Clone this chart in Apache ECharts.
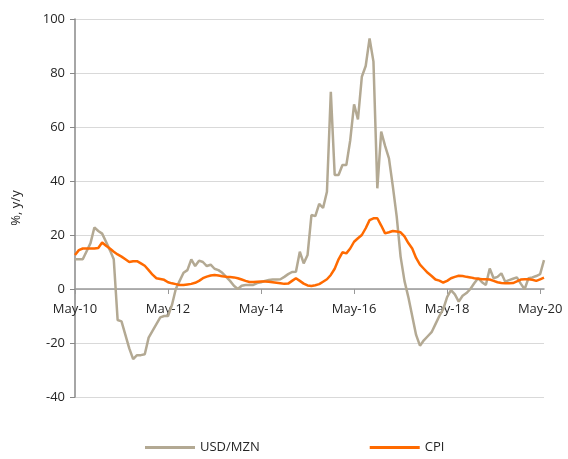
<!DOCTYPE html>
<html>
<head>
<meta charset="utf-8">
<script src="https://cdn.jsdelivr.net/npm/echarts@6/dist/echarts.min.js"></script>
<style>
  html, body { margin: 0; padding: 0; background: #fff; }
  #chart { width: 568px; height: 459px; }
</style>
</head>
<body>
<div id="chart"></div>
<script>
// monthly observations, May-10 .. Jun-20
var monthNames = ['Jan', 'Feb', 'Mar', 'Apr', 'May', 'Jun', 'Jul', 'Aug', 'Sep', 'Oct', 'Nov', 'Dec'];
var months = [];
for (var k = 0; k < 122; k++) {
    var m = (4 + k) % 12;
    var yr = 10 + Math.floor((4 + k) / 12);
    months.push(monthNames[m] + '-' + yr);
}

var usdMzn = [
    11, 11, 11, 14, 17, 22.8, 21.5, 20.5, 17.5, 14.4,
    11, -11.5, -12, -17, -22, -26, -24.5, -24.5, -24.2, -18,
    -15.5, -13, -10.5, -10, -10, -6, 0, 3, 6, 7,
    11, 8.5, 10.5, 10, 8.5, 9, 7.5, 7, 6, 4.5,
    3, 1.2, 0, 1.2, 1.5, 1.5, 1.5, 2.2, 2.5, 3,
    3.3, 3.5, 3.5, 3.6, 4.5, 5.5, 6.3, 6.4, 13.8, 9.5,
    12.6, 27.4, 27, 31.5, 30, 36, 73, 42.2, 42.2, 45.9,
    45.9, 55, 68.4, 62.8, 78.6, 82.6, 92.8, 84.2, 37.3, 58.3,
    53, 48.4, 38, 26.8, 12, 3, -3, -10, -17, -21,
    -19, -17.5, -16, -13, -10, -7.5, -3, -0.4, -2, -4.7,
    -2.5, -1.5, 0, 2.1, 4, 2.5, 1.5, 7.6, 4, 4.5,
    5.8, 2.7, 3.3, 3.8, 4.3, 2, -0.1, 4, 4.3, 4.8,
    5.5, 10.7
];

var cpi = [
    12.6, 14.4, 15, 15, 15, 15, 15.2, 17.2, 16, 15,
    13.8, 12.8, 12, 11, 10, 10.3, 10.3, 9.5, 8.6, 7,
    5.3, 4, 3.7, 3.4, 2.5, 2.1, 1.8, 1.5, 1.5, 1.7,
    1.9, 2.3, 3, 4, 4.6, 5, 5.2, 5, 4.7, 4.5,
    4.4, 4.3, 4, 3.5, 3, 2.6, 2.6, 2.7, 2.8, 2.8,
    2.7, 2.5, 2.3, 2.1, 1.9, 2, 3, 4, 3, 2,
    1.3, 1.1, 1.4, 1.8, 2.7, 3.6, 5.2, 7.5, 11, 13.6,
    13.2, 15, 17.5, 18.8, 20, 22.5, 25.5, 26.2, 26.2, 23.5,
    20.6, 21, 21.5, 21.3, 21, 19.5, 17, 15, 11.5, 9,
    7.5, 6, 4.8, 3.5, 3.1, 2.4, 3, 4, 4.5, 4.9,
    4.8, 4.5, 4.3, 4, 3.8, 3.6, 3.6, 3.5, 3, 2.5,
    2.2, 2.1, 2.1, 2.2, 2.8, 3.5, 3.6, 3.6, 3.4, 3,
    3.6, 4.2
];

var yMin = -40, yMax = 100;
var gridTop = 19, gridBottom = 62, chartH = 459;
var plotH = chartH - gridTop - gridBottom;
// move the category axis up to the zero line
var zeroOffset = -plotH * (0 - yMin) / (yMax - yMin);

function everyTwoYears(idx) { return idx % 24 === 0; }

var chart = echarts.init(document.getElementById('chart'));
var font = 'Open Sans, Noto Sans, sans-serif';
var option = {
    backgroundColor: '#fff',
    animation: false,
    grid: {
        left: 75,
        right: 24,
        top: gridTop,
        bottom: gridBottom
    },
    legend: {
        left: 140,
        bottom: 0,
        icon: 'rect',
        itemWidth: 50,
        itemHeight: 3,
        itemGap: 110,
        textStyle: { fontFamily: font, fontSize: 13, color: '#262626' },
        data: ['USD/MZN', 'CPI']
    },
    xAxis: {
        type: 'category',
        boundaryGap: false,
        data: months,
        offset: zeroOffset,
        axisLine: { onZero: false, lineStyle: { color: '#999', width: 1.5 } },
        axisTick: { show: true, interval: everyTwoYears, length: 5, lineStyle: { color: '#999' } },
        axisLabel: {
            interval: everyTwoYears,
            margin: 14,
            fontFamily: font,
            fontSize: 13,
            color: '#262626'
        },
        splitLine: { show: false }
    },
    yAxis: {
        type: 'value',
        min: yMin,
        max: yMax,
        interval: 20,
        name: '%, y/y',
        nameLocation: 'middle',
        nameGap: 52,
        nameRotate: 90,
        nameTextStyle: { fontFamily: font, fontSize: 13, color: '#262626' },
        axisLine: { show: true, lineStyle: { color: '#888', width: 1.5 } },
        axisTick: { show: true, length: 5, lineStyle: { color: '#888' } },
        axisLabel: { margin: 10, fontFamily: font, fontSize: 13, color: '#262626' },
        splitLine: { lineStyle: { color: '#d9d9d9', width: 1 } }
    },
    series: [
        {
            name: 'USD/MZN',
            type: 'line',
            data: usdMzn,
            symbol: 'none',
            color: '#b3a993',
            lineStyle: { width: 2.5, color: '#b3a993' },
            z: 2
        },
        {
            name: 'CPI',
            type: 'line',
            data: cpi,
            symbol: 'none',
            color: '#ff6a00',
            lineStyle: { width: 2.5, color: '#ff6a00' },
            z: 3
        }
    ]
};
chart.setOption(option);
</script>
</body>
</html>
